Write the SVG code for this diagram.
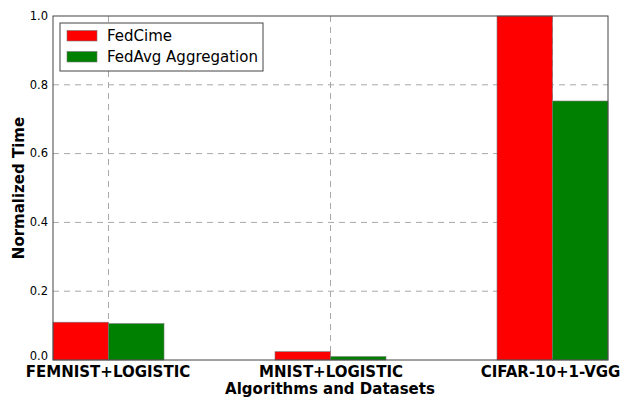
<svg xmlns="http://www.w3.org/2000/svg" width="623" height="400" viewBox="0 0 623 400">
<style>
text{font-family:"DejaVu Sans",Verdana,sans-serif;fill:#000}
.tick{font-size:11.5px;text-anchor:end}
.xl{font-size:15px;font-weight:bold;text-anchor:middle}
.grid{stroke:#a8a8a8;stroke-width:1;stroke-dasharray:6,5;fill:none}
.red{fill:#ff0000;stroke:#777;stroke-width:0.6}
.green{fill:#008000;stroke:#777;stroke-width:0.6}
.leg{font-size:15px}
</style>
<rect width="623" height="400" fill="#fff"/>
<g id="grid">
<line class="grid" x1="53" y1="291.2" x2="608" y2="291.2"/>
<line class="grid" x1="53" y1="222.4" x2="608" y2="222.4"/>
<line class="grid" x1="53" y1="153.6" x2="608" y2="153.6"/>
<line class="grid" x1="53" y1="84.8" x2="608" y2="84.8"/>
<line class="grid" x1="108.5" y1="16" x2="108.5" y2="360"/>
<line class="grid" x1="330.5" y1="16" x2="330.5" y2="360"/>
<line class="grid" x1="552.5" y1="16" x2="552.5" y2="360"/>
</g>
<g id="bars">
<rect class="red" x="53" y="322.2" width="55.5" height="37.8"/>
<rect class="green" x="108.5" y="323.6" width="55.5" height="36.4"/>
<rect class="red" x="275" y="351.7" width="55.5" height="8.3"/>
<rect class="green" x="330.5" y="356.6" width="55.5" height="3.4"/>
<rect class="red" x="497" y="16" width="55.5" height="344"/>
<rect class="green" x="552.5" y="101" width="55.5" height="259"/>
</g>
<rect id="frame" x="53" y="16" width="555" height="344" fill="none" stroke="#444" stroke-width="1"/>
<g id="yticks">
<text class="tick" x="48" y="360">0.0</text>
<text class="tick" x="48" y="295">0.2</text>
<text class="tick" x="48" y="226.2">0.4</text>
<text class="tick" x="48" y="157.4">0.6</text>
<text class="tick" x="48" y="88.6">0.8</text>
<text class="tick" x="48" y="19.8">1.0</text>
</g>
<g id="xticks">
<text class="xl" x="108" y="376.5">FEMNIST+LOGISTIC</text>
<text class="xl" x="331" y="376.5">MNIST+LOGISTIC</text>
<text class="xl" x="550.5" y="376.5">CIFAR-10+1-VGG</text>
</g>
<text class="xl" x="330" y="393.5">Algorithms and Datasets</text>
<text class="xl" transform="translate(23.5,188) rotate(-90)">Normalized Time</text>
<g id="legend">
<rect x="60" y="23" width="203" height="48" fill="#fff" stroke="#444" stroke-width="1"/>
<rect class="red" x="67" y="30.5" width="30" height="10.5"/>
<text class="leg" x="107" y="41">FedCime</text>
<rect class="green" x="67" y="51.5" width="30" height="10.5"/>
<text class="leg" x="107" y="62">FedAvg Aggregation</text>
</g>
</svg>
